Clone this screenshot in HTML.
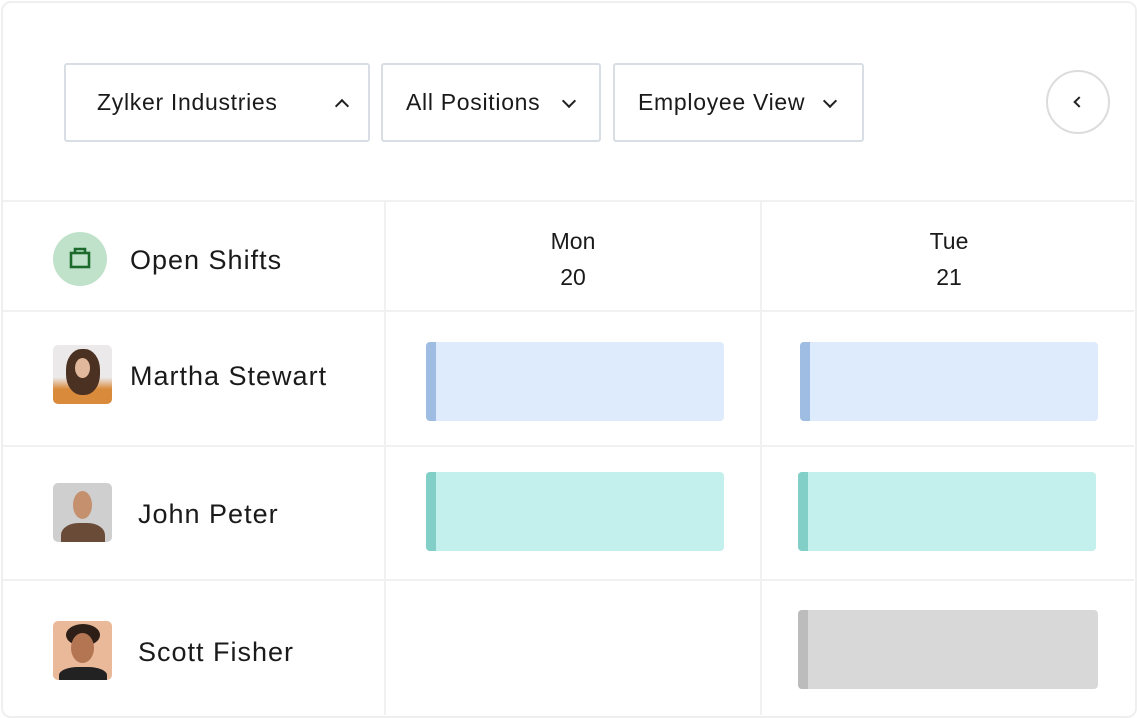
<!DOCTYPE html>
<html><head><meta charset="utf-8"><style>
body{margin:0;width:1137px;height:718px;background:#fff;font-family:"Liberation Sans",sans-serif;color:#1a1a1a;overflow:hidden;position:relative}
.a{position:absolute}
.frame{left:1px;top:1px;width:1132px;height:713px;border:2px solid #efefef;border-radius:10px}
.hl{height:2px;background:#f1f1f1;left:3px;width:1131px}
.vl{width:2px;background:#f1f1f1;top:201px;height:514px}
.dd{border:2px solid #d9dee4;border-radius:3px;height:79px;box-sizing:border-box;top:63px;font-size:23px;line-height:75px;letter-spacing:0.7px}
.dd span{position:absolute}
.chev{position:absolute;width:8px;height:8px;border-right:2px solid #222;border-bottom:2px solid #222}
.name{font-size:27px;line-height:30px;letter-spacing:1px}
.av{width:59px;height:59px;border-radius:5px;overflow:hidden}
.bar{border-radius:4px;overflow:hidden}
.bar i{position:absolute;left:0;top:0;bottom:0;width:10px}
.day{font-size:23px;text-align:center;width:374px}
</style></head><body>
<div class="a frame"></div>
<div class="a hl" style="top:200px"></div>
<div class="a hl" style="top:310px"></div>
<div class="a hl" style="top:445px"></div>
<div class="a hl" style="top:579px"></div>
<div class="a vl" style="left:384px"></div>
<div class="a vl" style="left:760px"></div>

<div class="a dd" style="left:64px;width:306px"><span style="left:31px">Zylker Industries</span><div class="chev" style="left:271px;top:36px;transform:rotate(-135deg)"></div></div>
<div class="a dd" style="left:381px;width:220px"><span style="left:23px">All Positions</span><div class="chev" style="left:181px;top:31px;transform:rotate(45deg)"></div></div>
<div class="a dd" style="left:613px;width:251px"><span style="left:23px">Employee View</span><div class="chev" style="left:210px;top:31px;transform:rotate(45deg)"></div></div>
<div class="a" style="left:1046px;top:70px;width:60px;height:60px;border:2px solid #dcdcdc;border-radius:50%"><div class="chev" style="width:6px;height:6px;left:27px;top:26px;transform:rotate(135deg)"></div></div>

<div class="a" style="left:53px;top:232px;width:54px;height:54px;border-radius:50%;background:#c0e2cb">
<svg width="54" height="54"><rect x="18" y="21" width="18" height="14" fill="none" stroke="#1c6b2c" stroke-width="2.6"/><path d="M22 21v-4h10v4" fill="none" stroke="#1c6b2c" stroke-width="2.6"/></svg></div>
<div class="a name" style="left:130px;top:245px">Open Shifts</div>
<div class="a day" style="left:386px;top:228px">Mon<div style="margin-top:9px">20</div></div>
<div class="a day" style="left:762px;top:228px">Tue<div style="margin-top:9px">21</div></div>

<div class="a av" style="left:53px;top:345px;background:linear-gradient(#ece9ea 0 55%,#d98a3a 75%)"><div style="position:absolute;left:13px;top:4px;width:34px;height:46px;border-radius:45%;background:#4a3122"></div><div style="position:absolute;left:22px;top:13px;width:15px;height:20px;border-radius:50%;background:#e2b89c"></div></div>
<div class="a name" style="left:130px;top:361px">Martha Stewart</div>
<div class="a av" style="left:53px;top:483px;background:#cfcfcf"><div style="position:absolute;left:8px;top:40px;width:44px;height:30px;border-radius:40%;background:#6a4b38"></div><div style="position:absolute;left:20px;top:8px;width:19px;height:28px;border-radius:50%;background:#c4906e"></div></div>
<div class="a name" style="left:138px;top:499px">John Peter</div>
<div class="a av" style="left:53px;top:621px;background:#e9b99a"><div style="position:absolute;left:13px;top:3px;width:34px;height:22px;border-radius:50%;background:#2d1f18"></div><div style="position:absolute;left:18px;top:12px;width:23px;height:30px;border-radius:50%;background:#b47552"></div><div style="position:absolute;left:6px;top:46px;width:48px;height:20px;border-radius:40%;background:#222"></div></div>
<div class="a name" style="left:138px;top:637px">Scott Fisher</div>

<div class="a bar" style="left:426px;top:342px;width:298px;height:79px;background:#deebfc"><i style="background:#9fbde3"></i></div>
<div class="a bar" style="left:800px;top:342px;width:298px;height:79px;background:#deebfc"><i style="background:#9fbde3"></i></div>
<div class="a bar" style="left:426px;top:472px;width:298px;height:79px;background:#c3efed"><i style="background:#82cfc8"></i></div>
<div class="a bar" style="left:798px;top:472px;width:298px;height:79px;background:#c3efed"><i style="background:#82cfc8"></i></div>
<div class="a bar" style="left:798px;top:610px;width:300px;height:79px;background:#d8d8d8"><i style="background:#bcbcbc"></i></div>
</body></html>
